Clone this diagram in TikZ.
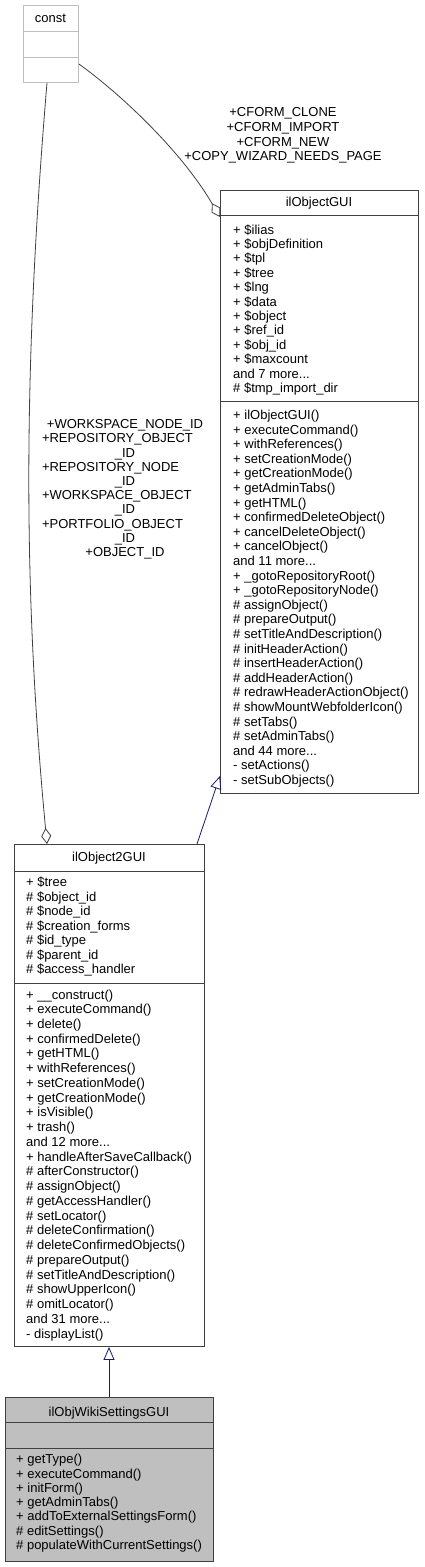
\documentclass[tikz,border=0pt]{standalone}
\usepackage{fontspec}
\setmainfont{Liberation Sans}
\usetikzlibrary{arrows.meta,calc}
\definecolor{edgegray}{HTML}{404040}
\definecolor{constgray}{HTML}{BFBFBF}
\definecolor{navyedge}{HTML}{191970}
\definecolor{selfill}{HTML}{BFBFBF}
\begin{document}
\begin{tikzpicture}[x=1pt,y=-1pt,
  classbox/.style={draw=edgegray, line width=0.9pt, fill=white, inner sep=0pt, anchor=north west},
  sepline/.style={draw=edgegray, line width=0.9pt},
  txt/.style={inner sep=0pt, align=left, anchor=north west},
  ttl/.style={inner sep=0pt, anchor=base, font=\fontsize{13}{14}\selectfont},
  lbl/.style={inner sep=0pt, align=center, anchor=north},
  aggr/.style={draw=edgegray, line width=0.8pt, -{Diamond[open, length=16pt, width=10pt]}},
  inh/.style={draw=navyedge, line width=0.8pt, -{Triangle[open, length=13pt, width=11pt]}}
]
\useasboundingbox (0,0) rectangle (424,1567);

% const box
\node[classbox, draw=constgray, minimum width=55pt, minimum height=77pt] (const) at (23,5) {};
\draw[draw=constgray, line width=0.9pt] ($(const.north west)+(0,26)$) -- ($(const.north east)+(0,26)$);
\draw[draw=constgray, line width=0.9pt] ($(const.north west)+(0,52)$) -- ($(const.north east)+(0,52)$);
\node[ttl] (constt) at (50.5,22.5) {const};

% ilObjectGUI
\node[classbox, minimum width=198pt, minimum height=603pt] (og) at (220,190) {};
\draw[sepline] ($(og.north west)+(0,25)$) -- ($(og.north east)+(0,25)$);
\draw[sepline] ($(og.north west)+(0,211)$) -- ($(og.north east)+(0,211)$);
\node[ttl] (ogt) at (319,206.5) {ilObjectGUI};
\node[txt, font=\fontsize{13}{14.4}\selectfont] (oga) at (233,222.8) {\rule{0pt}{11pt}+ \$ilias\\
+ \$objDefinition\\
+ \$tpl\\
+ \$tree\\
+ \$lng\\
+ \$data\\
+ \$object\\
+ \$ref\_id\\
+ \$obj\_id\\
+ \$maxcount\\
and 7 more...\\
\# \$tmp\_import\_dir};
\node[txt, font=\fontsize{13}{14.6}\selectfont] (ogm) at (233,408.2) {\rule{0pt}{11pt}+ ilObjectGUI()\\
+ executeCommand()\\
+ withReferences()\\
+ setCreationMode()\\
+ getCreationMode()\\
+ getAdminTabs()\\
+ getHTML()\\
+ confirmedDeleteObject()\\
+ cancelDeleteObject()\\
+ cancelObject()\\
and 11 more...\\
+ \_gotoRepositoryRoot()\\
+ \_gotoRepositoryNode()\\
\# assignObject()\\
\# prepareOutput()\\
\# setTitleAndDescription()\\
\# initHeaderAction()\\
\# insertHeaderAction()\\
\# addHeaderAction()\\
\# redrawHeaderActionObject()\\
\# showMountWebfolderIcon()\\
\# setTabs()\\
\# setAdminTabs()\\
and 44 more...\\
- setActions()\\
- setSubObjects()};

% ilObject2GUI
\node[classbox, minimum width=190pt, minimum height=502pt] (o2) at (14,844) {};
\draw[sepline] ($(o2.north west)+(0,27)$) -- ($(o2.north east)+(0,27)$);
\draw[sepline] ($(o2.north west)+(0,139)$) -- ($(o2.north east)+(0,139)$);
\node[ttl] (o2t) at (109,861.5) {ilObject2GUI};
\node[txt, font=\fontsize{13}{14.5}\selectfont] (o2a) at (26,875.5) {\rule{0pt}{11pt}+ \$tree\\
\# \$object\_id\\
\# \$node\_id\\
\# \$creation\_forms\\
\# \$id\_type\\
\# \$parent\_id\\
\# \$access\_handler};
\node[txt, font=\fontsize{13}{14.74}\selectfont] (o2m) at (26,987.8) {\rule{0pt}{11pt}+ \_\_construct()\\
+ executeCommand()\\
+ delete()\\
+ confirmedDelete()\\
+ getHTML()\\
+ withReferences()\\
+ setCreationMode()\\
+ getCreationMode()\\
+ isVisible()\\
+ trash()\\
and 12 more...\\
+ handleAfterSaveCallback()\\
\# afterConstructor()\\
\# assignObject()\\
\# getAccessHandler()\\
\# setLocator()\\
\# deleteConfirmation()\\
\# deleteConfirmedObjects()\\
\# prepareOutput()\\
\# setTitleAndDescription()\\
\# showUpperIcon()\\
\# omitLocator()\\
and 31 more...\\
- displayList()};

% ilObjWikiSettingsGUI
\node[classbox, fill=selfill, minimum width=208pt, minimum height=164pt] (ow) at (5,1397) {};
\draw[sepline] ($(ow.north west)+(0,25)$) -- ($(ow.north east)+(0,25)$);
\draw[sepline] ($(ow.north west)+(0,51)$) -- ($(ow.north east)+(0,51)$);
\node[ttl] (owt) at (109,1416.5) {ilObjWikiSettingsGUI};
\node[txt, font=\fontsize{13}{14.3}\selectfont] (owm) at (16,1452.5) {\rule{0pt}{11pt}+ getType()\\
+ executeCommand()\\
+ initForm()\\
+ getAdminTabs()\\
+ addToExternalSettingsForm()\\
\# editSettings()\\
\# populateWithCurrentSettings()};

% edges
\draw[inh] ($(ow.north west)+(104,0)$) -- ($(o2.south west)+(95,0)$);
\draw[inh] ($(o2.north west)+(183,0)$) -- ($(og.south west)+(0,-18)$);
\draw[aggr] ($(const.north east)+(0,59)$) .. controls (118,92) and (180,149) .. ($(og.north west)+(0,27)$);
\draw[aggr] ($(const.south west)+(24,0)$) .. controls (22,380) and (24,600) .. ($(o2.north west)+(33,0)$);

% edge labels
\node[lbl, font=\fontsize{13}{14.7}\selectfont] (lblc) at (283,105.5) {\rule{0pt}{11pt}+CFORM\_CLONE\\
+CFORM\_IMPORT\\
+CFORM\_NEW\\
+COPY\_WIZARD\_NEEDS\_PAGE};
\node[lbl, font=\fontsize{13}{14.2}\selectfont] (lblw) at (125,417.5) {\rule{0pt}{11pt}+WORKSPACE\_NODE\_ID\\
\makebox[166pt][l]{+REPOSITORY\_OBJECT}\\
\_ID\\
\makebox[166pt][l]{+REPOSITORY\_NODE}\\
\_ID\\
\makebox[166pt][l]{+WORKSPACE\_OBJECT}\\
\_ID\\
\makebox[166pt][l]{+PORTFOLIO\_OBJECT}\\
\_ID\\
+OBJECT\_ID};
\end{tikzpicture}
\end{document}
